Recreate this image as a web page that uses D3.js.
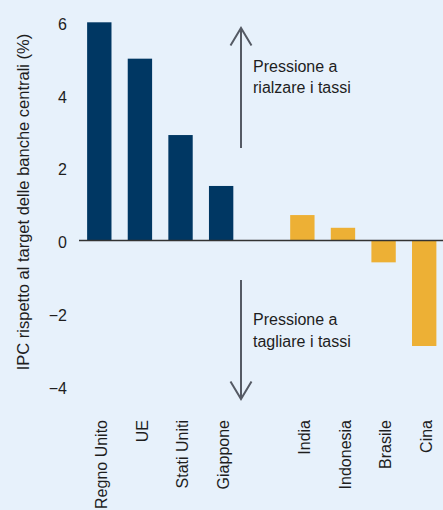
<!DOCTYPE html>
<html>
<head>
<meta charset="utf-8">
<script src="https://cdn.jsdelivr.net/npm/d3@7"></script>
<style>
  html, body { margin: 0; padding: 0; background: #E7F1FB; }
  svg { display: block; font-family: "Liberation Sans", Arial, Helvetica, sans-serif; }
</style>
</head>
<body>
<svg id="chart" width="443" height="510"></svg>
<script>
const categories = ["Regno Unito", "UE", "Stati Uniti", "Giappone", "", "India", "Indonesia", "Brasile", "Cina"];
const advanced = ["Regno Unito", "UE", "Stati Uniti", "Giappone"];
const emerging = ["India", "Indonesia", "Brasile", "Cina"];
const advancedValues = [6.0, 5.0, 2.9, 1.5];
const emergingValues = [0.7, 0.35, -0.6, -2.9];
const yTicks = [-4, -2, 0, 2, 4, 6];
const yTitle = "IPC rispetto al target delle banche centrali (%)";
const upText = ["Pressione a", "rialzare i tassi"];
const downText = ["Pressione a", "tagliare i tassi"];

const colors = { advanced: "#003763", emerging: "#EDB035", text: "#1e1e1e", arrow: "#555a64", axis: "#333333" };

const svg = d3.select("#chart");
const W = 443, H = 510;
svg.append("rect").attr("width", W).attr("height", H).attr("fill", "#E7F1FB");

const x = d3.scaleBand().domain(categories).range([79, 444.5]).paddingInner(0.4).paddingOuter(0.2);
const y = d3.scaleLinear().domain([-4, 6]).range([386, 22.3]);

const data = advanced.map((c, i) => ({ c, v: advancedValues[i], g: "advanced" }))
  .concat(emerging.map((c, i) => ({ c, v: emergingValues[i], g: "emerging" })));

svg.append("g").selectAll("rect").data(data).join("rect")
  .attr("x", d => x(d.c))
  .attr("width", x.bandwidth())
  .attr("y", d => y(Math.max(0, d.v)))
  .attr("height", d => Math.abs(y(d.v) - y(0)))
  .attr("fill", d => colors[d.g]);

// zero line
svg.append("line").attr("x1", 79).attr("x2", W).attr("y1", y(0)).attr("y2", y(0))
  .attr("stroke", colors.axis).attr("stroke-width", 1.5);

// y axis labels
const yAxis = d3.axisLeft(y).tickValues(yTicks).tickSize(0).tickPadding(0).tickFormat(d3.format("d"));
const gy = svg.append("g").attr("transform", "translate(67,2)").call(yAxis);
gy.select(".domain").remove();
gy.selectAll("text").attr("font-size", 16).attr("fill", colors.text)
  .style("font-family", '"Liberation Sans", Arial, sans-serif');

// x axis labels
const xAxis = d3.axisBottom(x).tickValues(categories.filter(c => c)).tickSize(0).tickPadding(0);
const gx = svg.append("g").attr("transform", "translate(0,0)").call(xAxis);
gx.select(".domain").remove();
gx.selectAll("text")
  .attr("transform", "translate(2,420) rotate(-90)")
  .attr("x", 0).attr("y", 0).attr("dy", "0.35em")
  .attr("text-anchor", "end")
  .attr("font-size", 16).attr("fill", colors.text)
  .style("font-family", '"Liberation Sans", Arial, sans-serif');

// y title
svg.append("text")
  .attr("transform", "translate(29,202) rotate(-90)")
  .attr("text-anchor", "middle")
  .attr("font-size", 16.5).attr("fill", colors.text)
  .text(yTitle);

// arrows
const ax = 241;
function arrow(yFrom, yTo) {
  const dir = yTo < yFrom ? 1 : -1;
  svg.append("line").attr("x1", ax).attr("x2", ax).attr("y1", yFrom).attr("y2", yTo)
    .attr("stroke", colors.arrow).attr("stroke-width", 2);
  svg.append("path")
    .attr("d", `M${ax - 10.5},${yTo + dir * 17.5} L${ax},${yTo} L${ax + 10.5},${yTo + dir * 17.5}`)
    .attr("fill", "none").attr("stroke", colors.arrow).attr("stroke-width", 2);
}
arrow(148, 28);
arrow(280, 399);

function block(lines, yBase) {
  const t = svg.append("text").attr("x", 253).attr("y", yBase)
    .attr("font-size", 16).attr("fill", colors.text);
  lines.forEach((l, i) => t.append("tspan").attr("x", 253).attr("y", yBase + i * 21.5).text(l));
}
block(upText, 71.7);
block(downText, 325);
</script>
</body>
</html>
